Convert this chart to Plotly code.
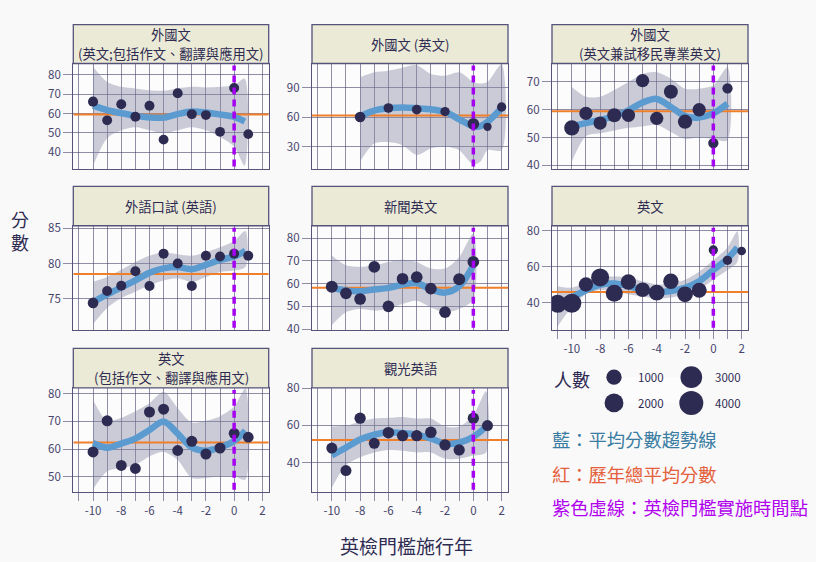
import plotly.graph_objects as go

W, H = 816, 562
FONT = "Noto Sans CJK TC, Noto Sans, sans-serif"

# ---------------- data ----------------
YEARS_TICKS = list(range(-11, 3))
X_TICK_LABELS = ["", "-10", "", "-8", "", "-6", "", "-4", "", "-2", "", "0", "", "2"]
THRESHOLD_YEAR = 0

titles = [
    ["外國文", "(英文;包括作文、翻譯與應用文)"],
    ["外國文 (英文)"],
    ["外國文", "(英文兼試移民專業英文)"],
    ["外語口試 (英語)"],
    ["新聞英文"],
    ["英文"],
    ["英文", "(包括作文、翻譯與應用文)"],
    ["觀光英語"],
]

# panel 1
p1_year = [-10, -9, -8, -7, -6, -5, -4, -3, -2, -1, 0, 1]
p1_score = [66.1, 56.5, 64.8, 58.3, 64.0, 46.6, 70.4, 59.7, 59.2, 50.6, 73.1, 49.4]
p1_n = [160, 140, 150, 150, 150, 140, 150, 150, 140, 140, 150, 130]
p1_trend_year = [-10, -9, -8, -7, -6, -5, -4, -3, -2, -1, 0, 0.75]
p1_trend = [64.1, 61.8, 60.2, 58.8, 58.0, 57.9, 59.7, 61.0, 60.5, 59.5, 58.3, 55.9]
p1_upper = [84.0, 76.2, 73.7, 72.9, 72.0, 71.7, 72.9, 73.7, 73.4, 73.7, 74.5, 77.9]
p1_lower = [33.2, 47.3, 51.4, 53.0, 51.4, 49.8, 51.4, 53.0, 51.4, 48.0, 43.1, 33.2]
p1_mean = 59.5

# panel 2
p2_year = [-8, -6, -4, -2, 0, 1, 2]
p2_score = [60.2, 69.3, 67.7, 65.7, 53.3, 50.3, 70.3]
p2_n = [220, 127, 127, 98, 343, 38, 98]
p2_trend_year = [-8, -7, -6, -5, -4, -3, -2, -1, 0, 0.5, 1, 2]
p2_trend = [61.1, 66.7, 69.0, 69.7, 69.0, 68.0, 65.4, 57.9, 50.7, 51.0, 55.2, 69.3]
p2_upper = [100.5, 105.4, 107.0, 110.0, 112.6, 103.8, 102.0, 105.4, 95.6, 94.0, 95.6, 113.6]
p2_lower = [15.2, 33.3, 34.9, 31.6, 21.8, 28.4, 30.0, 26.7, 12.0, 15.2, 26.7, 26.7]
p2_mean = 61.8

# panel 3
p3_year = [-10, -9, -8, -7, -6, -5, -4, -3, -2, -1, 0, 1]
p3_score = [53.5, 58.7, 55.2, 58.0, 58.0, 70.5, 56.9, 66.5, 55.7, 60.0, 48.0, 67.7]
p3_n = [1000, 594, 594, 724, 594, 594, 594, 724, 784, 594, 181, 181]
p3_trend_year = [-10, -9, -8, -7, -6, -5, -4, -3, -2, -1, 0, 1]
p3_trend = [54.2, 55.2, 56.3, 57.7, 59.8, 62.6, 63.9, 61.0, 57.7, 57.2, 58.7, 62.2]
p3_upper = [68.2, 64.7, 64.7, 67.1, 70.0, 72.9, 73.5, 71.2, 67.6, 67.6, 68.8, 75.3]
p3_lower = [41.4, 50.5, 51.5, 52.5, 53.5, 54.0, 54.5, 52.0, 49.5, 50.0, 49.5, 49.0]
p3_mean = 59.5

# panel 4
p4_year = [-10, -9, -8, -7, -6, -5, -4, -3, -2, -1, 0, 1]
p4_score = [74.4, 76.1, 76.85, 78.9, 76.8, 81.4, 80.0, 76.8, 81.1, 81.0, 81.4, 81.1]
p4_n = [220, 153, 153, 153, 153, 153, 153, 153, 153, 153, 153, 153]
p4_trend_year = [-10, -9, -8, -7, -6, -5, -4, -3, -2, -1, 0, 0.8]
p4_trend = [74.5, 75.6, 76.6, 77.6, 78.7, 79.3, 79.5, 79.2, 79.8, 80.5, 81.0, 81.8]
p4_upper = [77.4, 78.1, 79.1, 80.2, 81.1, 81.6, 81.3, 81.1, 81.6, 82.3, 83.2, 84.6]
p4_lower = [71.4, 73.7, 75.1, 76.0, 76.9, 77.6, 77.9, 77.4, 78.1, 78.8, 79.0, 79.5]
p4_mean = 78.5

# panel 5
p5_year = [-10, -9, -8, -7, -6, -5, -4, -3, -2, -1, 0]
p5_score = [58.6, 55.7, 53.2, 67.3, 50.0, 62.1, 62.8, 57.8, 47.4, 61.9, 69.5]
p5_n = [386, 343, 343, 343, 343, 343, 343, 343, 343, 386, 343]
p5_trend_year = [-10, -9, -8, -7, -6, -5, -4, -3, -2, -1, 0]
p5_trend = [58.1, 57.0, 56.6, 57.4, 58.1, 59.5, 60.2, 57.4, 56.0, 58.8, 68.0]
p5_upper = [72.3, 68.0, 67.3, 68.0, 69.5, 70.5, 69.5, 66.6, 66.6, 71.6, 82.0]
p5_lower = [41.7, 47.4, 48.8, 48.1, 48.8, 51.0, 52.4, 49.5, 47.4, 48.8, 53.1]
p5_mean = 58.1

# panel 6
p6_year = [-11, -10, -9, -8, -7, -6, -5, -4, -3, -2, -1, 0, 1, 2]
p6_score = [39.5, 39.8, 50.2, 54.1, 45.4, 51.6, 47.3, 45.7, 52.0, 44.8, 47.0, 69.3, 63.6, 68.75]
p6_n = [1720, 2030, 784, 1720, 1430, 1000, 868, 1095, 1000, 1095, 933, 96, 96, 58]
p6_trend_year = [-11, -10, -9, -8, -7, -6, -5, -4, -3, -2, -1, 0, 1, 1.7]
p6_trend = [38.5, 43.0, 47.0, 50.0, 50.7, 49.3, 47.1, 46.1, 46.6, 48.4, 52.0, 58.2, 64.5, 70.7]
p6_upper = [49.3, 48.4, 51.4, 54.6, 54.6, 54.1, 52.0, 50.2, 50.7, 52.9, 57.3, 63.6, 70.7, 79.6]
p6_lower = [27.0, 37.7, 44.8, 47.1, 46.6, 44.8, 43.6, 42.5, 43.0, 44.8, 47.5, 52.9, 58.2, 62.7]
p6_mean = 46.1

# panel 7
p7_year = [-10, -9, -8, -7, -6, -5, -4, -3, -2, -1, 0, 1]
p7_score = [59.0, 70.2, 54.1, 53.0, 73.4, 74.4, 59.5, 62.8, 58.2, 60.4, 65.7, 64.3]
p7_n = [256, 256, 240, 240, 256, 256, 240, 256, 256, 256, 240, 230]
p7_trend_year = [-10, -9, -8, -7, -6, -5, -4, -3, -2, -1, 0, 0.8]
p7_trend = [62.2, 60.5, 62.0, 63.8, 66.9, 70.0, 65.6, 60.6, 59.4, 60.6, 62.9, 66.6]
p7_upper = [77.8, 70.2, 71.3, 73.7, 76.6, 80.7, 74.8, 69.6, 70.2, 71.9, 75.4, 81.9]
p7_lower = [45.5, 52.0, 53.2, 54.3, 57.3, 59.0, 56.1, 49.6, 49.6, 50.2, 50.2, 49.0]
p7_mean = 62.4

# panel 8
p8_year = [-10, -9, -8, -7, -6, -5, -4, -3, -2, -1, 0, 1]
p8_score = [47.8, 35.7, 63.9, 50.4, 56.1, 54.5, 54.5, 56.3, 49.5, 46.8, 63.9, 59.9]
p8_n = [256, 256, 290, 256, 320, 290, 290, 320, 290, 290, 290, 256]
p8_trend_year = [-10, -9, -8, -7, -6, -5, -4, -3, -2, -1, 0, 0.9]
p8_trend = [43.8, 48.1, 52.4, 55.0, 56.3, 55.9, 55.0, 53.0, 50.2, 50.7, 53.9, 59.4]
p8_upper = [59.4, 59.9, 62.0, 63.7, 64.1, 64.6, 63.7, 63.7, 59.4, 59.4, 65.5, 78.4]
p8_lower = [26.5, 38.6, 42.9, 45.5, 46.8, 46.4, 45.5, 45.5, 42.1, 42.1, 43.8, 45.5]
p8_mean = 52.1

legend_counts = [1000, 2000, 3000, 4000]
legend_labels = ["1000", "2000", "3000", "4000"]

# ---------------- layout settings ----------------
X_RANGE = [-11.4, 2.45]
Y_RANGES = [[31.7, 85.7], [8, 114.3], [38.8, 76.65], [70.6, 85.36],
            [39.7, 85.4], [25.2, 82.7], [44.6, 82.1], [24.3, 80.2]]
Y_TICKS = [[40, 50, 60, 70, 80], [30, 60, 90], [40, 50, 60, 70], [75, 80, 85],
           [40, 50, 60, 70, 80], [40, 60, 80], [50, 60, 70, 80], [40, 60, 80]]
COLS_PX = [(73.3, 268.7), (312, 508), (552, 748)]
ROWS_PX = [(56, 164), (222.7, 329.5), (389.3, 496)]
STRIPS_PX = [(16, 56), (182.3, 222.7), (348.7, 389.3)]
CELLS = [(0, 0), (0, 1), (0, 2), (1, 0), (1, 1), (1, 2), (2, 0), (2, 1)]
SHOW_X_LABELS = [False, False, False, False, False, True, True, True]

POINT_C = "#2e2b52"
TREND_C = "#5b9bd0"
MEAN_C = "#f07f2a"
THR_C = "#a600f2"
BAND_C = "rgba(135,135,168,0.42)"
GRID_C = "rgba(70,68,108,0.6)"
LINE_C = "#55537a"
TEXT_C = "#2e2b52"
TICK_C = "#46446c"
BG_C = "#f9f9f9"


def size_of(n):
    return [6.6 + 0.275 * (v ** 0.5) for v in n]


def px_x(v):
    return v / W


def px_y(v):
    return 1 - v / H


panels = [
    (p1_year, p1_score, p1_n, p1_trend_year, p1_trend, p1_upper, p1_lower, p1_mean),
    (p2_year, p2_score, p2_n, p2_trend_year, p2_trend, p2_upper, p2_lower, p2_mean),
    (p3_year, p3_score, p3_n, p3_trend_year, p3_trend, p3_upper, p3_lower, p3_mean),
    (p4_year, p4_score, p4_n, p4_trend_year, p4_trend, p4_upper, p4_lower, p4_mean),
    (p5_year, p5_score, p5_n, p5_trend_year, p5_trend, p5_upper, p5_lower, p5_mean),
    (p6_year, p6_score, p6_n, p6_trend_year, p6_trend, p6_upper, p6_lower, p6_mean),
    (p7_year, p7_score, p7_n, p7_trend_year, p7_trend, p7_upper, p7_lower, p7_mean),
    (p8_year, p8_score, p8_n, p8_trend_year, p8_trend, p8_upper, p8_lower, p8_mean),
]

fig = go.Figure()
layout = dict(
    width=W, height=H, margin=dict(l=0, r=0, t=0, b=0),
    paper_bgcolor=BG_C, plot_bgcolor="#fcfcfc",
    showlegend=False, font=dict(family=FONT, color=TEXT_C),
)
shapes = []
annotations = []

for i, (yr, sc, n, ty, tr, up, lo, mean) in enumerate(panels):
    k = i + 1
    xa = "x" if k == 1 else f"x{k}"
    ya = "y" if k == 1 else f"y{k}"
    r, c = CELLS[i]
    x0, x1 = COLS_PX[c]
    y0, y1 = ROWS_PX[r]
    s0, s1 = STRIPS_PX[r]

    # confidence band
    fig.add_trace(go.Scatter(
        x=ty + ty[::-1], y=up + lo[::-1], xaxis=xa, yaxis=ya,
        mode="lines", fill="toself", fillcolor=BAND_C,
        line=dict(width=0, shape="spline", smoothing=0.8), hoverinfo="skip"))
    # overall mean line
    fig.add_trace(go.Scatter(
        x=X_RANGE, y=[mean, mean], xaxis=xa, yaxis=ya, mode="lines",
        line=dict(color=MEAN_C, width=2), hoverinfo="skip"))
    # trend line
    fig.add_trace(go.Scatter(
        x=ty, y=tr, xaxis=xa, yaxis=ya, mode="lines",
        line=dict(color=TREND_C, width=6.5, shape="spline", smoothing=0.9)))
    # points
    fig.add_trace(go.Scatter(
        x=yr, y=sc, xaxis=xa, yaxis=ya, mode="markers",
        marker=dict(color=POINT_C, size=size_of(n), opacity=1, line=dict(width=0))))

    show = SHOW_X_LABELS[i]
    layout[f"xaxis{k}"] = dict(
        domain=[px_x(x0), px_x(x1)], anchor=ya, range=X_RANGE,
        tickmode="array", tickvals=YEARS_TICKS, ticktext=X_TICK_LABELS,
        showticklabels=show, ticks="outside" if show else "", ticklen=8,
        tickcolor=GRID_C, tickwidth=1.2,
        showgrid=True, gridcolor=GRID_C, gridwidth=1.2, zeroline=False,
        showline=True, mirror=True, linecolor=LINE_C, linewidth=1.3,
        tickfont=dict(size=11.5, color=TICK_C, family=FONT),
    )
    layout[f"yaxis{k}"] = dict(
        domain=[px_y(y1), px_y(y0)], anchor=xa, range=Y_RANGES[i],
        tickmode="array", tickvals=Y_TICKS[i],
        ticks="outside", ticklen=9, tickcolor=GRID_C, tickwidth=1.2,
        showgrid=True, gridcolor=GRID_C, gridwidth=1.2, zeroline=False,
        showline=True, mirror=True, linecolor=LINE_C, linewidth=1.3,
        tickfont=dict(size=11.5, color=TICK_C, family=FONT),
    )
    # threshold line
    shapes.append(dict(
        type="line", xref=xa, yref=f"{ya} domain", x0=THRESHOLD_YEAR, x1=THRESHOLD_YEAR,
        y0=0.02, y1=0.98, layer="above",
        line=dict(color=THR_C, width=3.5, dash="7px,5px")))
    # strip
    shapes.append(dict(
        type="rect", xref="paper", yref="paper",
        x0=px_x(x0), x1=px_x(x1), y0=px_y(s1), y1=px_y(s0),
        fillcolor="#ebead6", line=dict(color=LINE_C, width=1.3), layer="above"))
    lines = titles[i]
    if len(lines) == 1:
        ys = [(s0 + s1) / 2]
    else:
        ys = [s0 + 10.2, s0 + 29.8]
    for txt, ty_px in zip(lines, ys):
        annotations.append(dict(
            xref="paper", yref="paper", x=px_x((x0 + x1) / 2), y=px_y(ty_px),
            text=txt, showarrow=False, xanchor="center", yanchor="middle",
            font=dict(size=13.3, color=TEXT_C, family=FONT)))

# size legend
LEG_X = [614, 691.3]
LEG_Y = [378.3, 404.7]
leg_col = [0, 0, 1, 1]
leg_row = [0, 1, 0, 1]
fig.add_trace(go.Scatter(
    x=leg_col, y=leg_row, xaxis="x9", yaxis="y9", mode="markers",
    marker=dict(color=POINT_C, size=size_of(legend_counts), opacity=1, line=dict(width=0)),
    cliponaxis=False))
layout["xaxis9"] = dict(domain=[px_x(LEG_X[0]), px_x(LEG_X[1])], range=[0, 1], anchor="y9",
                        visible=False, fixedrange=True)
layout["yaxis9"] = dict(domain=[px_y(LEG_Y[1]), px_y(LEG_Y[0])], range=[1, 0], anchor="x9",
                        visible=False, fixedrange=True)
for cx, ry, lab in zip(leg_col, leg_row, legend_labels):
    annotations.append(dict(
        xref="x9", yref="y9", x=cx, y=ry, text=lab, showarrow=False,
        xanchor="center", yanchor="middle", xshift=37,
        font=dict(size=11.5, color=TEXT_C, family=FONT)))

annotations += [
    dict(xref="paper", yref="paper", x=px_x(572), y=px_y(380), text="人數",
         showarrow=False, xanchor="center", yanchor="middle",
         font=dict(size=18, color=TEXT_C, family=FONT)),
    dict(xref="paper", yref="paper", x=px_x(550), y=px_y(442), text="藍：平均分數趨勢線",
         showarrow=False, xanchor="left", yanchor="middle",
         font=dict(size=18.3, color="#3a7ca2", family=FONT)),
    dict(xref="paper", yref="paper", x=px_x(550), y=px_y(478), text="紅：歷年總平均分數",
         showarrow=False, xanchor="left", yanchor="middle",
         font=dict(size=18.3, color="#e4603c", family=FONT)),
    dict(xref="paper", yref="paper", x=px_x(550), y=px_y(512), text="紫色虛線：英檢門檻實施時間點",
         showarrow=False, xanchor="left", yanchor="middle",
         font=dict(size=18.3, color="#b000ee", family=FONT)),
    dict(xref="paper", yref="paper", x=px_x(20), y=px_y(228), text="分<br>數",
         showarrow=False, xanchor="center", yanchor="middle",
         font=dict(size=18, color=TEXT_C, family=FONT)),
    dict(xref="paper", yref="paper", x=px_x(406), y=px_y(551), text="英檢門檻施行年",
         showarrow=False, xanchor="center", yanchor="middle",
         font=dict(size=19, color=TEXT_C, family=FONT)),
]

layout["shapes"] = shapes
layout["annotations"] = annotations
fig.update_layout(**layout)
fig.write_html(
    "out.html",
    config={"displayModeBar": False},
    post_script="document.body.style.margin='0';document.body.style.background='%s';" % BG_C,
)
